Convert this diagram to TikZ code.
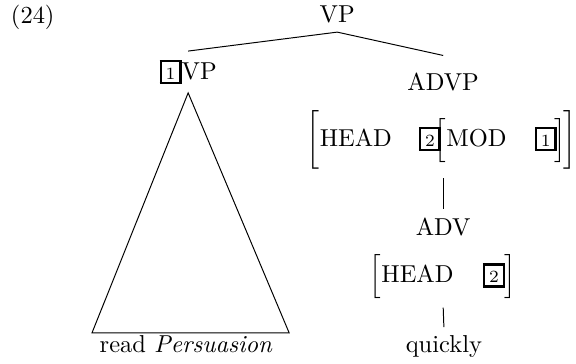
\documentclass[tikz,border=0pt]{standalone}
\usepackage{tikz}
\usetikzlibrary{positioning}

% boxed index tag
\newcommand{\tagnum}[1]{{\setlength{\fboxsep}{1pt}\setlength{\fboxrule}{1pt}\fbox{\makebox[5pt]{\rule{0pt}{6pt}\scriptsize #1}}}}

\begin{document}
\begin{tikzpicture}[every node/.style={font=\normalsize}]
    \useasboundingbox (0,0) rectangle (8.266,5.223);

    % Example number
    \node (exnum) at (0.47,4.98) {(24)};

    % Tree nodes
    \node (vp) at (4.84,5.01) {VP};
    \node (vpl) at (2.70,4.19) {\tagnum{1}VP};
    \node (advp) at (6.36,4.05) {ADVP};
    \node[anchor=west] (avmtop) at (4.28,3.21) {$\bigg[\mbox{HEAD}\hspace{11pt}\tagnum{2}\hspace{-2.5pt}\Big[\mbox{MOD}\hspace{11.5pt}\tagnum{1}\hspace{-1pt}\Big]\hspace{-1pt}\bigg]$};
    \node (adv) at (6.36,1.97) {ADV};
    \node (avmlow) at (6.36,1.25) {$\Big[\mbox{HEAD}\hspace{12pt}\tagnum{2}\Big]$};
    \node[anchor=base] (read) at (2.67,0.16) {read \textit{Persuasion}};
    \node[anchor=base] (quick) at (6.37,0.16) {quickly};

    % Triangle corners
    \coordinate (tril) at (1.32,0.445);
    \coordinate (trir) at (4.15,0.445);

    % Branches
    \draw (vp.south) -- (vpl.north);
    \draw (vp.south) -- ([yshift=3.5pt]advp.north);
    \draw (vpl.south) -- (tril) -- (trir) -- cycle;
    \draw (adv.north |- avmtop.south) -- (adv.north);
    \draw (avmlow.south) -- (quick.north);
\end{tikzpicture}
\end{document}
